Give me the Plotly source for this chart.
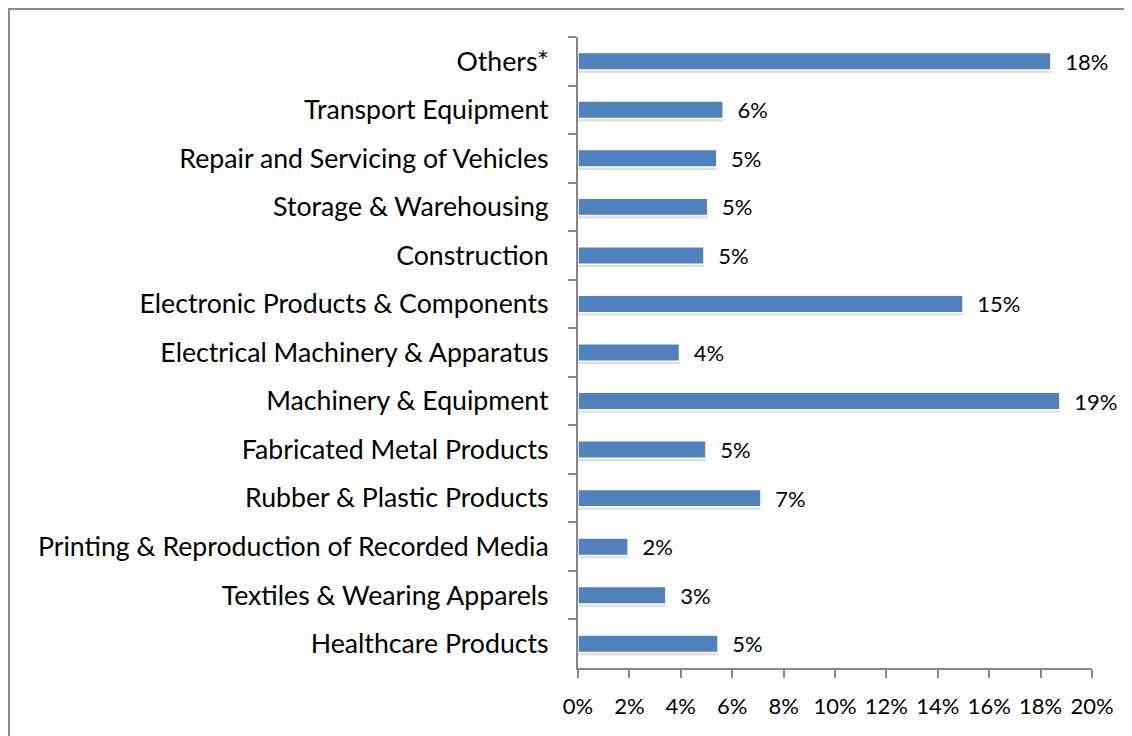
import plotly.graph_objects as go

categories = [
    "Others*",
    "Transport Equipment",
    "Repair and Servicing of Vehicles",
    "Storage & Warehousing",
    "Construction",
    "Electronic Products & Components",
    "Electrical Machinery & Apparatus",
    "Machinery & Equipment",
    "Fabricated Metal Products",
    "Rubber & Plastic Products",
    "Printing & Reproduction of Recorded Media",
    "Textiles & Wearing Apparels",
    "Healthcare Products",
]
shares = [0.184, 0.0565, 0.054, 0.0505, 0.049, 0.1498, 0.0395, 0.1875, 0.0498, 0.0712, 0.0195, 0.0342, 0.0545]
labels = ["18%", "6%", "5%", "5%", "5%", "15%", "4%", "19%", "5%", "7%", "2%", "3%", "5%"]
tick_vals = [0, 0.02, 0.04, 0.06, 0.08, 0.10, 0.12, 0.14, 0.16, 0.18, 0.20]
tick_text = ["0%", "2%", "4%", "6%", "8%", "10%", "12%", "14%", "16%", "18%", "20%"]

FONT = "Lato"
axis_col = "#868686"
BAR_W = 0.36

fig = go.Figure()
# soft drop shadow
fig.add_trace(go.Bar(
    x=shares, y=categories, orientation="h",
    marker=dict(color="rgba(0,0,0,0.13)", line=dict(width=0)),
    width=BAR_W, offset=-BAR_W / 2 + 0.06,
    hoverinfo="skip",
))
fig.add_trace(go.Bar(
    x=shares, y=categories, orientation="h",
    marker=dict(color="#4F81BD", line=dict(color="white", width=1.5)),
    width=BAR_W, offset=-BAR_W / 2,
    text=["\u00a0\u00a0" + t for t in labels], textposition="outside",
    constraintext="none",
    textfont=dict(family=FONT, size=22, color="#000000"),
    cliponaxis=False,
))

fig.update_layout(
    width=1124, height=728,
    margin=dict(l=570, r=40, t=29, b=68),
    paper_bgcolor="white", plot_bgcolor="white",
    showlegend=False, barmode="overlay",
    font=dict(family=FONT, size=22, color="#000000"),
    xaxis=dict(
        range=[0, 0.20], tickvals=tick_vals, ticktext=tick_text,
        showgrid=False, zeroline=False,
        showline=True, linecolor=axis_col, linewidth=2,
        ticks="outside", ticklen=8, tickcolor=axis_col, tickwidth=2,
        tickfont=dict(family=FONT, size=22, color="#000000"),
        ticklabelstandoff=10,
    ),
    yaxis=dict(
        autorange="reversed",
        showgrid=False,
        showline=True, linecolor=axis_col, linewidth=2,
        ticks="outside", ticklen=8, tickcolor=axis_col, tickwidth=2,
        tickson="boundaries",
        tickfont=dict(family=FONT, size=26.7, color="#000000"),
        ticklabelstandoff=22,
    ),
    shapes=[dict(
        type="rect", xref="paper", yref="paper",
        x0=-1.107, x1=1.3, y0=-0.3, y1=1.0444,
        line=dict(color="#8c8c8c", width=2), layer="below",
    )],
)

fig.write_html("out.html")
